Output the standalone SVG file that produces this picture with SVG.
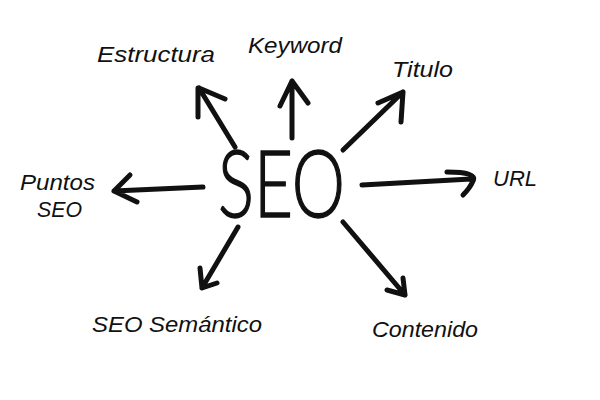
<svg xmlns="http://www.w3.org/2000/svg" width="600" height="400" viewBox="0 0 600 400">
<style>
.lbl{font-family:"Liberation Sans",Arial,sans-serif;font-style:italic;font-size:22px;fill:#111}
.hub{font-family:"Lato","Open Sans",sans-serif;font-weight:300;font-size:92px;fill:#111;stroke:#111;stroke-width:1.5}
.arr{fill:none;stroke:#111;stroke-width:5;stroke-linecap:round;stroke-linejoin:round}
</style>
<rect width="600" height="400" fill="#fff"/>
<g id="connectors">
<path class="arr" d="M235,147 L199,88 M198,88 L198,117 M199,88 L225,99"/>
<path class="arr" d="M292,138 L292,81 M292,81 L280,106 M292,81 L308,103"/>
<path class="arr" d="M343,150 L403,92 M403,92 L378,103 M403,92 L401,122"/>
<path class="arr" d="M203,187 L114,191 M114,191 L130,175 M114,191 L137,202"/>
<path class="arr" d="M362,185 L471,179 M447,172 Q478,172 473,181 Q470,188 463,195"/>
<path class="arr" d="M238,227 L202,288 M202,288 L200,268 M202,288 L217,283"/>
<path class="arr" d="M343,222 L405,295 M405,295 L403,278 M405,295 L387,290"/>
</g>
<g id="seo"><text class="hub" x="218" y="217" textLength="127" lengthAdjust="spacingAndGlyphs">SEO</text></g>
<g id="estructura"><text class="lbl" x="97" y="62" textLength="118" lengthAdjust="spacingAndGlyphs">Estructura</text></g>
<g id="keyword"><text class="lbl" x="248" y="53" textLength="94" lengthAdjust="spacingAndGlyphs">Keyword</text></g>
<g id="titulo"><text class="lbl" x="392" y="77" textLength="61" lengthAdjust="spacingAndGlyphs">Titulo</text></g>
<g id="puntos-seo"><text class="lbl" x="20" y="190" textLength="75" lengthAdjust="spacingAndGlyphs">Puntos</text><text class="lbl" x="37" y="217" textLength="45" lengthAdjust="spacingAndGlyphs">SEO</text></g>
<g id="url"><text class="lbl" x="493" y="186" textLength="44" lengthAdjust="spacingAndGlyphs">URL</text></g>
<g id="seo-semantico"><text class="lbl" x="92" y="332" textLength="170" lengthAdjust="spacingAndGlyphs">SEO Semántico</text></g>
<g id="contenido"><text class="lbl" x="372" y="337" textLength="106" lengthAdjust="spacingAndGlyphs">Contenido</text></g>
</svg>
